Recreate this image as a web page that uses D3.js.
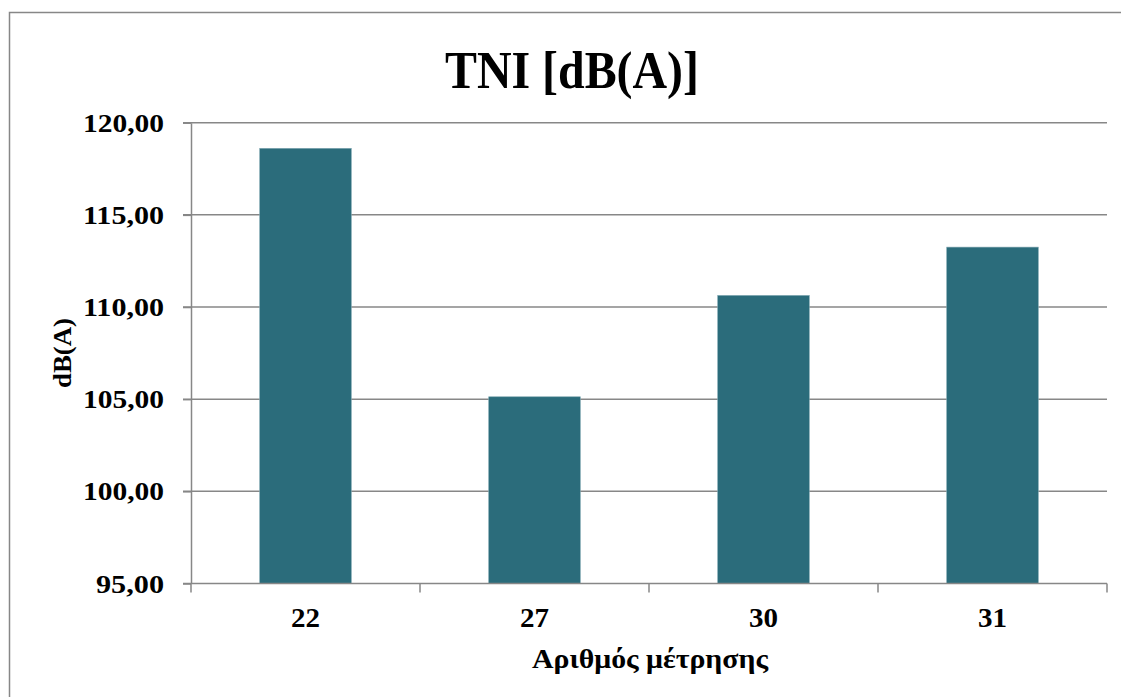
<!DOCTYPE html>
<html><head><meta charset="utf-8">
<script src="https://cdn.jsdelivr.net/npm/d3@7"></script>
<style>body{margin:0;background:#fff}svg{display:block}</style>
</head><body>
<script>
const categories = ["22", "27", "30", "31"];
const values = [118.61, 105.13, 110.63, 113.25];
const yTicks = [95, 100, 105, 110, 115, 120];
const title = "TNI [dB(A)]";
const xTitle = "Αριθμός μέτρησης";
const yTitle = "dB(A)";

const W = 1121, H = 697;
const font = "'Liberation Serif', 'DejaVu Serif', serif";
const svg = d3.select("body").append("svg").attr("width", W).attr("height", H);

svg.append("rect").attr("x", 9.5).attr("y", 12.5).attr("width", W + 20).attr("height", H + 20)
  .attr("fill", "#fff").attr("stroke", "#878787").attr("stroke-width", 1.5);

const pLeft = 191, pRight = 1107, pTop = 122.7, pBottom = 583.5;
const x = d3.scaleBand().domain(categories).range([pLeft, pRight]).paddingInner(0.6).paddingOuter(0.3);
const xb = d3.scaleBand().domain(categories).range([pLeft, pRight]);
const y = d3.scaleLinear().domain([95, 120]).range([pBottom, pTop]);

// gridlines
svg.append("g").selectAll("line").data(yTicks.filter(t => t !== 95)).join("line")
  .attr("x1", pLeft - 8).attr("x2", pRight).attr("y1", d => y(d)).attr("y2", d => y(d))
  .attr("stroke", "#878787").attr("stroke-width", 1.5);

// bars
svg.append("g").selectAll("rect").data(categories).join("rect")
  .attr("x", d => x(d)).attr("width", x.bandwidth())
  .attr("y", (d, i) => y(values[i])).attr("height", (d, i) => y(95) - y(values[i]))
  .attr("fill", "#2B6C7B").attr("stroke", "#7FA7B1").attr("stroke-width", 0.6);

// y axis
const fmt = d => d3.format(".2f")(d).replace(".", ",");
const ya = svg.append("g").attr("transform", `translate(${pLeft},0)`)
  .call(d3.axisLeft(y).tickValues(yTicks).tickSize(8).tickSizeOuter(0).tickFormat(fmt));
ya.select(".domain").attr("stroke", "#878787").attr("stroke-width", 1.5);
ya.selectAll(".tick line").attr("stroke", "#878787").attr("stroke-width", 1.5);
ya.selectAll(".tick text").attr("x", -27).attr("dy", "0.33em")
  .attr("font-family", font).attr("font-weight", "bold").attr("font-size", 26).attr("fill", "#000")
  .attr("textLength", d => fmt(d).length === 6 ? 81 : 68).attr("lengthAdjust", "spacingAndGlyphs");

// x axis
const xa = svg.append("g").attr("transform", `translate(0,${pBottom})`)
  .call(d3.axisBottom(x).tickSize(0).tickSizeOuter(0));
xa.select(".domain").attr("stroke", "#878787").attr("stroke-width", 1.5).attr("d", `M${pLeft - 8},0H${pRight}`);
xa.selectAll(".tick text").attr("y", 43.5).attr("dy", 0)
  .attr("font-family", font).attr("font-weight", "bold").attr("font-size", 27).attr("fill", "#000")
  .attr("textLength", 29).attr("lengthAdjust", "spacingAndGlyphs");
// category boundary tick marks
svg.append("g").selectAll("line").data(categories.concat(["end"])).join("line")
  .attr("x1", (d, i) => i < categories.length ? xb(d) : pRight)
  .attr("x2", (d, i) => i < categories.length ? xb(d) : pRight)
  .attr("y1", pBottom).attr("y2", pBottom + 9)
  .attr("stroke", "#878787").attr("stroke-width", 1.5);

// titles
svg.append("text").attr("x", 572).attr("y", 88).attr("text-anchor", "middle")
  .attr("font-family", font).attr("font-weight", "bold").attr("font-size", 52)
  .attr("textLength", 254).attr("lengthAdjust", "spacingAndGlyphs").text(title);
svg.append("text").attr("x", 650).attr("y", 668).attr("text-anchor", "middle")
  .attr("font-family", font).attr("font-weight", "bold").attr("font-size", 27)
  .attr("textLength", 236).attr("lengthAdjust", "spacingAndGlyphs").text(xTitle);
svg.append("text").attr("transform", "translate(71,353) rotate(-90)").attr("text-anchor", "middle")
  .attr("font-family", font).attr("font-weight", "bold").attr("font-size", 26)
  .attr("textLength", 70).attr("lengthAdjust", "spacingAndGlyphs").text(yTitle);
</script>
</body></html>
